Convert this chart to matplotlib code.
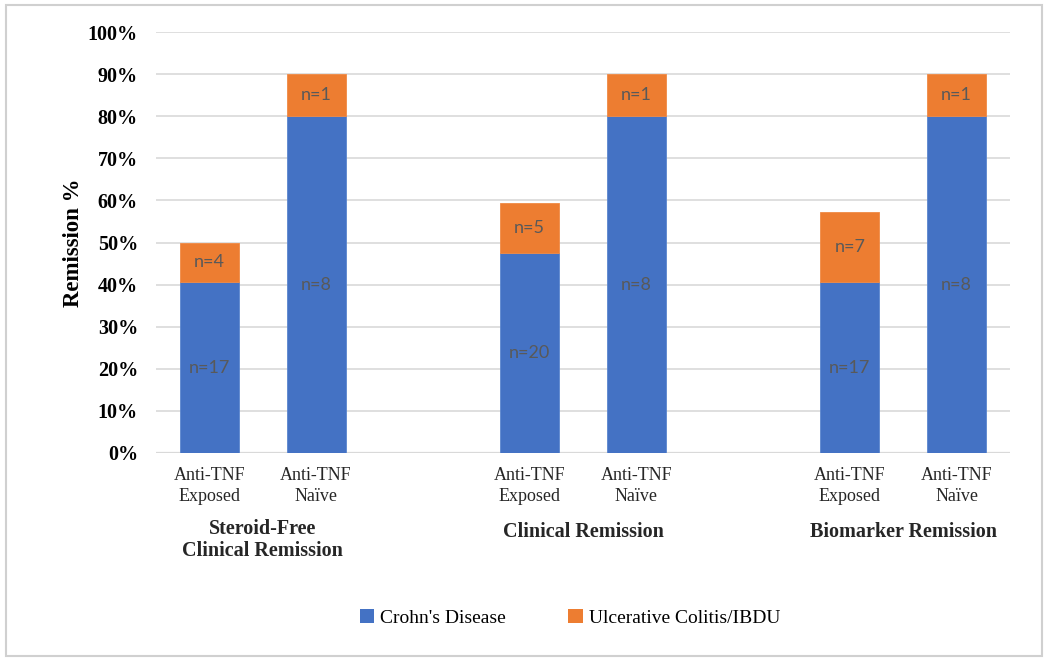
import matplotlib
matplotlib.use("Agg")
import matplotlib.pyplot as plt
from matplotlib.patches import Rectangle, Patch
import numpy as np

# ---- data ----
bar_labels = ["Anti-TNF\nExposed", "Anti-TNF\nNaïve",
              "Anti-TNF\nExposed", "Anti-TNF\nNaïve",
              "Anti-TNF\nExposed", "Anti-TNF\nNaïve"]
group_labels = ["Steroid-Free\nClinical Remission", "Clinical Remission", "Biomarker Remission"]
crohns = [40.5, 80.0, 47.6, 80.0, 40.5, 80.0]
uc_ibdu = [9.5, 10.0, 11.9, 10.0, 16.7, 10.0]
crohns_n = ["n=17", "n=8", "n=20", "n=8", "n=17", "n=8"]
uc_n = ["n=4", "n=1", "n=5", "n=1", "n=7", "n=1"]
series_names = ["Crohn's Disease", "Ulcerative Colitis/IBDU"]
yticks = [0, 10, 20, 30, 40, 50, 60, 70, 80, 90, 100]

BLUE = "#4472C4"
ORANGE = "#ED7D31"
GRID = "#D9D9D9"
LABEL = "#595959"

fig = plt.figure(figsize=(10.5, 6.62), dpi=100)
ax = fig.add_axes([156/1050, 1-453/662, (1010-156)/1050, (453-32)/662])

x = np.array([0, 1, 3, 4, 6, 7], dtype=float)
w = 0.553
ax.bar(x, crohns, w, color=BLUE, edgecolor="#5B86CF", linewidth=0.6, zorder=2)
ax.bar(x, uc_ibdu, w, bottom=crohns, color=ORANGE, edgecolor="#F08A45", linewidth=0.6, zorder=2)

for xi, c, u, cn, un in zip(x, crohns, uc_ibdu, crohns_n, uc_n):
    ax.text(xi, c/2, cn, ha="center", va="center", fontsize=13, color=LABEL, family="Lato", zorder=3)
    ax.text(xi, c + u/2, un, ha="center", va="center", fontsize=13, color=LABEL, family="Lato", zorder=3)

ax.set_xlim(-0.5, 7.5)
ax.set_ylim(0, 100)
ax.set_yticks(yticks)
ax.set_yticklabels([f"{t}%" for t in yticks], fontsize=14.5, fontweight="bold", family="Liberation Serif")
ax.set_xticks(x)
ax.set_xticklabels(bar_labels, fontsize=13, family="Liberation Serif", linespacing=1.3, color="#262626")
ax.tick_params(axis="y", length=0, pad=13)
ax.tick_params(axis="x", length=0, pad=10)
ax.grid(axis="y", color=GRID, linewidth=1.2, zorder=0)
ax.set_axisbelow(True)
for s in ["top", "right", "left", "bottom"]:
    ax.spines[s].set_visible(False)
ax.axhline(0, color=GRID, linewidth=1.6, zorder=1)

ax.set_ylabel("Remission %", fontsize=16.5, fontweight="bold", family="Liberation Serif")
ax.yaxis.set_label_coords(-(156-84)/854, 0.5)

# group labels
group_x = [0.5, 3.5, 6.5]
for gx, gl in zip(group_x, group_labels):
    xf = (156 + (gx + 0.5) / 8 * 854) / 1050
    if "\n" in gl:
        fig.text(xf, 1 - 540/662, gl, ha="center", va="center", fontsize=14.5,
                 fontweight="bold", family="Liberation Serif", color="#262626", linespacing=1.15)
    else:
        fig.text(xf, 1 - 532/662, gl, ha="center", va="center", fontsize=14.5,
                 fontweight="bold", family="Liberation Serif", color="#262626")

handles = [Patch(facecolor=BLUE), Patch(facecolor=ORANGE)]
fig.legend(handles, series_names, loc="center", bbox_to_anchor=(570/1050, 1-618/662),
           ncol=2, frameon=False, prop={"family": "Liberation Serif", "size": 14},
           handlelength=0.75, handleheight=0.75, handletextpad=0.3, columnspacing=3.2)

fig.patches.append(Rectangle((6/1050, 1-656/662), (1042-6)/1050, (656-5)/662,
                             transform=fig.transFigure, fill=False, edgecolor="#D0D0D0",
                             linewidth=1.5, zorder=-1))

fig.savefig("out.png", dpi=100, facecolor="white")
